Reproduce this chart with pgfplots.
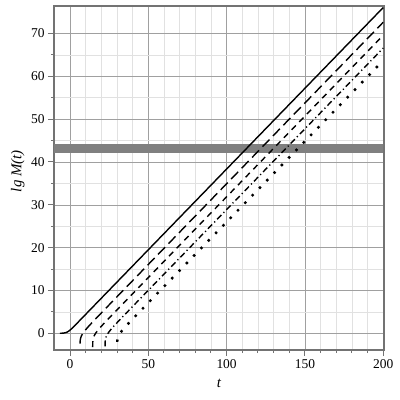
\documentclass[border=0pt]{standalone}
\usepackage{fontspec}
\setmainfont{Liberation Serif}
\usepackage{pgfplots}
\pgfplotsset{compat=1.18}
\definecolor{frame}{RGB}{115,115,115}
\definecolor{majgrid}{RGB}{160,160,160}
\definecolor{mingrid}{RGB}{225,225,225}
\definecolor{band}{RGB}{128,128,128}

\begin{document}
\begin{tikzpicture}
\path[use as bounding box] (-54bp,-50bp) rectangle (346bp,350bp);
\begin{axis}[
  at={(0,0)}, anchor=south west,
  scale only axis, width=330bp, height=344bp,
  xmin=-10.2, xmax=200.5, ymin=-3.9, ymax=76.4,
  xtick={0,50,...,200}, ytick={0,10,...,70},
  minor x tick num=4, minor y tick num=1,
  grid=both,
  major grid style={majgrid, line width=0.5bp},
  minor grid style={mingrid, line width=0.5bp},
  axis line style={frame, line width=2bp},
  tick pos=left, tick align=outside,
  major tick length=6bp, minor tick length=3bp,
  tick style={frame, line width=0.9bp},
  /pgf/number format/assume math mode=true,
  ticklabel style={font=\fontsize{13.5}{15}\selectfont},
  xlabel={\textit{t}},
  ylabel={\textit{lg M(t)}},
  label style={font=\fontsize{15}{17}\selectfont},
  xlabel style={at={(axis description cs:0.5,-0.096)}, anchor=center},
  ylabel style={at={(axis description cs:-0.11,0.52)}, anchor=center},
]
% threshold band
\addplot[band, line width=8.7bp] coordinates {(-10.2,43.2) (200,43.2)};
% solid
\addplot[black, line width=1.4bp] coordinates {
  (-6.5,0.007) (-5,0.024) (-4,0.055) (-3,0.122) (-2,0.248) (-1,0.453)
  (0,0.730) (1,1.058) (2,1.412) (3,1.779) (4,2.152) (6,2.903) (200,76.04)
};
% long dash
\addplot[black, line width=1.4bp, dash pattern=on 10bp off 5bp] coordinates {
  (6.425,-2.43) (6.45,-2.12) (6.55,-1.62) (6.8,-1.12) (7.4,-0.53) (8.4,0.075)
  (9.9,0.79) (11.9,1.63) (14.4,2.61) (18.4,4.14) (24.4,6.41) (200,72.61)
};
% dash
\addplot[black, line width=1.4bp, dash pattern=on 6bp off 5bp] coordinates {
  (14.504,-3.235) (14.51,-2.84) (14.52,-2.53) (14.55,-2.12) (14.65,-1.62)
  (14.9,-1.12) (15.5,-0.53) (16.5,0.075) (18.0,0.79) (20.0,1.63) (22.5,2.61)
  (26.5,4.14) (32.5,6.41) (200,69.56)
};
% dash-dot
\addplot[black, line width=1.4bp, dash pattern=on 6bp off 3bp on 1.2bp off 3bp] coordinates {
  (22.406,-3.06) (22.41,-2.84) (22.42,-2.53) (22.45,-2.12) (22.55,-1.62)
  (22.8,-1.12) (23.4,-0.53) (24.4,0.075) (25.9,0.79) (27.9,1.63) (30.4,2.61)
  (34.4,4.14) (40.4,6.41) (200,66.58)
};
% dotted
\addplot[black, line width=2.4bp, dash pattern=on 2.4bp off 8.1bp] coordinates {
  (30.165,-2.01) (30.25,-1.62) (30.5,-1.12) (31.1,-0.53) (32.1,0.075)
  (33.6,0.79) (35.6,1.63) (38.1,2.61) (42.1,4.14) (48.1,6.41) (200,63.68)
};
\end{axis}
\end{tikzpicture}
\end{document}
